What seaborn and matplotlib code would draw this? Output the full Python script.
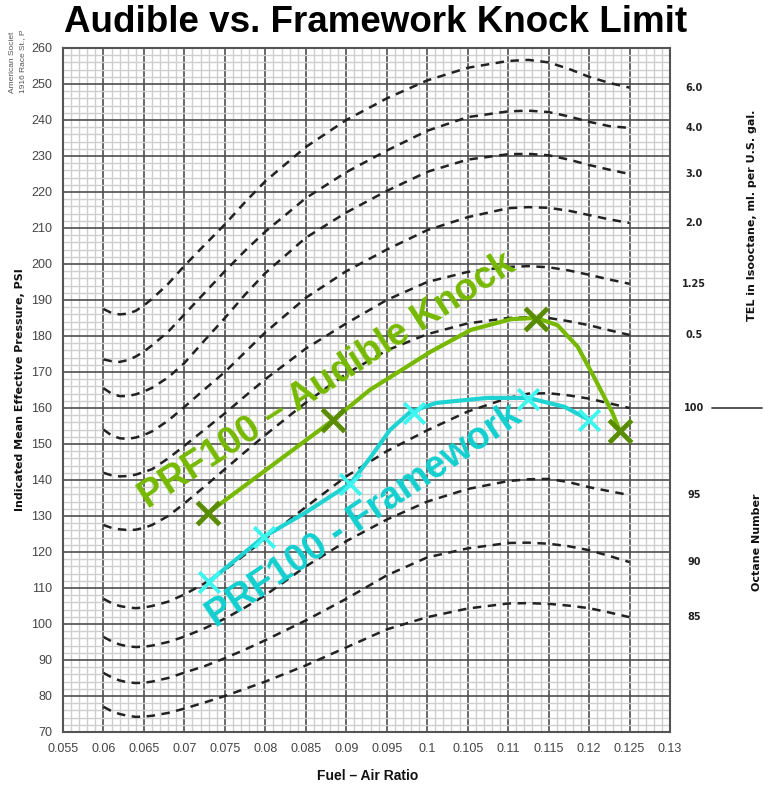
import numpy as np
import pandas as pd
import matplotlib
matplotlib.use("Agg")
import matplotlib.pyplot as plt
import seaborn as sns
from matplotlib.lines import Line2D
from matplotlib.ticker import MultipleLocator
import matplotlib.transforms as mtransforms

# ---------------- data ----------------
curve_x = [0.060, 0.061, 0.062, 0.063, 0.064, 0.065, 0.066, 0.068, 0.070, 0.0725,
           0.075, 0.0775, 0.080, 0.085, 0.090, 0.095, 0.100, 0.105, 0.110, 0.1125,
           0.115, 0.1175, 0.120, 0.1225, 0.125]
curve_1 = [187.5, 186.4, 186.0, 186.2, 187.0, 188.5, 190.3, 194.5, 199.5, 205.3,
           211.0, 217.2, 223.0, 232.5, 240.0, 246.0, 251.0, 254.5, 256.4, 256.7,
           256.0, 254.2, 252.0, 250.3, 249.0]
curve_2 = [173.5, 173.0, 172.8, 173.3, 174.3, 175.7, 177.4, 181.2, 186.0, 192.0,
           198.0, 203.7, 209.0, 218.3, 225.5, 231.5, 237.0, 240.8, 242.4, 242.6,
           242.2, 241.0, 239.5, 238.3, 237.8]
curve_3 = [165.5, 164.0, 163.3, 163.3, 163.8, 164.6, 165.6, 168.5, 172.5, 178.8,
           185.0, 191.5, 197.5, 207.3, 214.3, 220.3, 225.6, 229.0, 230.5, 230.6,
           230.2, 229.0, 227.5, 226.2, 225.0]
curve_4 = [154.0, 152.4, 151.6, 151.4, 151.8, 152.5, 153.5, 156.5, 160.3, 165.2,
           170.0, 175.5, 181.0, 190.6, 198.0, 204.0, 209.4, 213.0, 215.5, 215.8,
           215.6, 214.8, 213.6, 212.4, 211.4]
curve_5 = [142.0, 141.3, 141.0, 141.1, 141.5, 142.2, 143.0, 146.0, 149.5, 154.0,
           158.5, 163.3, 168.0, 176.5, 183.5, 190.0, 195.0, 197.8, 199.2, 199.4,
           199.1, 198.2, 197.0, 195.7, 194.5]
curve_6 = [127.5, 126.7, 126.3, 126.1, 126.2, 126.7, 127.5, 130.0, 133.5, 138.2,
           143.0, 147.8, 152.5, 161.5, 169.5, 176.0, 180.5, 183.5, 185.0, 185.2,
           185.0, 184.1, 183.0, 181.6, 180.3]
curve_7 = [107.0, 105.8, 105.0, 104.6, 104.4, 104.6, 105.0, 106.2, 108.2, 111.3,
           115.0, 119.3, 123.7, 132.5, 141.0, 148.0, 153.8, 159.0, 162.8, 164.0,
           164.1, 163.5, 162.6, 161.3, 160.0]
curve_8 = [96.4, 95.2, 94.3, 93.8, 93.6, 93.7, 94.0, 95.0, 96.5, 98.8,
           101.5, 104.6, 108.0, 116.0, 123.0, 129.0, 134.0, 137.5, 139.7, 140.2,
           140.3, 139.4, 138.0, 136.9, 135.8]
curve_9 = [86.4, 85.2, 84.3, 83.8, 83.6, 83.7, 84.0, 85.0, 86.5, 88.3,
           90.5, 92.9, 95.5, 101.0, 107.0, 113.5, 118.5, 121.0, 122.5, 122.6,
           122.3, 121.6, 120.5, 118.9, 117.2]
curve_10 = [77.0, 75.8, 75.0, 74.5, 74.2, 74.3, 74.5, 75.3, 76.5, 78.2,
            80.0, 82.0, 84.0, 88.5, 93.5, 98.5, 101.9, 104.3, 105.7, 105.8,
            105.6, 105.1, 104.4, 103.2, 101.9]
curves = [curve_1, curve_2, curve_3, curve_4, curve_5,
          curve_6, curve_7, curve_8, curve_9, curve_10]

tel_labels = ["6.0", "4.0", "3.0", "2.0", "1.25", "0.5"]
octane_labels = ["100", "95", "90", "85"]

audible_x = [0.0729, 0.0884, 0.0929, 0.1004, 0.1054, 0.1104, 0.1135, 0.1161,
             0.1186, 0.1208, 0.1229, 0.1238]
audible_y = [130.8, 156.7, 165.0, 175.6, 181.7, 184.7, 185.0, 183.0,
             177.0, 167.8, 158.6, 153.6]
audible_mx = [0.0729, 0.0884, 0.1135, 0.1238]
audible_my = [130.8, 156.7, 184.8, 153.6]

frame_x = [0.0730, 0.0798, 0.0850, 0.0905, 0.0929, 0.0954, 0.0979, 0.1011,
           0.1074, 0.1125, 0.1170, 0.1200]
frame_y = [111.7, 124.2, 131.0, 139.0, 146.0, 153.9, 158.9, 161.4,
           162.8, 162.8, 160.3, 156.7]
frame_mx = [0.0730, 0.0798, 0.0905, 0.0984, 0.1125, 0.1200]
frame_my = [111.7, 124.2, 139.0, 158.6, 162.5, 156.7]

x_ticks = [0.055, 0.06, 0.065, 0.07, 0.075, 0.08, 0.085, 0.09, 0.095, 0.1,
           0.105, 0.11, 0.115, 0.12, 0.125, 0.13]
x_tick_labels = ["0.055", "0.06", "0.065", "0.07", "0.075", "0.08", "0.085", "0.09",
                 "0.095", "0.1", "0.105", "0.11", "0.115", "0.12", "0.125", "0.13"]
y_ticks = list(range(70, 261, 10))

# ---------------- figure ----------------
sns.set_theme(style="white")
plt.rcParams["font.family"] = ["Liberation Sans", "DejaVu Sans"]

fig = plt.figure(figsize=(7.64, 7.87), dpi=100)
ax = fig.add_axes([63 / 764, 1 - 732 / 787, 607 / 764, 684 / 787])

ax.set_xlim(0.055, 0.13)
ax.set_ylim(70, 260)
ax.xaxis.set_minor_locator(MultipleLocator(0.001))
ax.yaxis.set_minor_locator(MultipleLocator(2))
ax.set_xticks(x_ticks)
ax.set_xticklabels(x_tick_labels)
ax.set_yticks(y_ticks)
ax.grid(which="minor", color="#cfcfcf", linewidth=1.0, zorder=0)
ax.grid(which="major", color="#4f4f4f", linewidth=1.2, zorder=0.5)
ax.set_axisbelow(True)
for s in ax.spines.values():
    s.set_color("#555555")
    s.set_linewidth(1.5)
ax.tick_params(which="both", length=0)
ax.tick_params(axis="both", labelsize=9, labelcolor="#444444", pad=8)
for lab in ax.get_xticklabels() + ax.get_yticklabels():
    lab.set_family(["Liberation Sans Narrow", "Liberation Sans", "DejaVu Sans"])

# dashed knock-limit curves
for cy in curves:
    sns.lineplot(x=curve_x, y=cy, ax=ax, color="#222222", linewidth=1.8,
                 linestyle=(0, (3.4, 2.6)), zorder=3)

# measured lines
sns.lineplot(x=audible_x, y=audible_y, ax=ax, color="#76b900", linewidth=3.0,
             zorder=5, sort=False)
sns.scatterplot(x=audible_mx, y=audible_my, ax=ax, marker="x", s=260,
                color="#5a8c00", linewidth=3.5, zorder=6)
sns.lineplot(x=frame_x, y=frame_y, ax=ax, color="#1fd3d3", linewidth=3.0,
             zorder=5, sort=False)
sns.scatterplot(x=frame_mx, y=frame_my, ax=ax, marker="x", s=220,
                color="#3ff5f0", linewidth=2.8, zorder=6)

ax.text(0.0876, 167.5, "PRF100 \u2013 Audible Knock", color="#76b900",
        fontsize=27, fontweight="bold", rotation=33, rotation_mode="anchor",
        ha="center", va="center", zorder=7)
ax.text(0.0922, 130.0, "PRF100 - Framework", color="#12cfcf",
        fontsize=27, fontweight="bold", rotation=34, rotation_mode="anchor",
        ha="center", va="center", zorder=7)

# right-hand labels
trans = mtransforms.blended_transform_factory(ax.transAxes, ax.transData)
for lab, cy in zip(tel_labels + octane_labels, curves):
    ax.text(1.04, cy[-1], lab, transform=trans, ha="center", va="center",
            fontsize=7, fontweight="bold", color="#222222",
            family=["DejaVu Sans"])
fig.add_artist(Line2D([712 / 764, 762 / 764], [1 - 408 / 787, 1 - 408 / 787],
                      color="#333333", linewidth=1.2))

fig.text(752 / 764, 1 - 215 / 787, "TEL in Isooctane, ml. per U.S. gal.",
         rotation=90, ha="center", va="center", fontsize=8, fontweight="bold",
         color="#111111", family=["DejaVu Sans"])
fig.text(757 / 764, 1 - 542 / 787, "Octane Number", rotation=90,
         ha="center", va="center", fontsize=8, fontweight="bold",
         color="#111111", family=["DejaVu Sans"])
fig.text(20 / 764, 1 - 390 / 787, "Indicated Mean Effective Pressure, PSI",
         rotation=90, ha="center", va="center", fontsize=8, fontweight="bold",
         color="#111111", family=["DejaVu Sans"])
fig.text(368 / 764, 1 - 776 / 787, "Fuel \u2013 Air Ratio", ha="center",
         va="center", fontsize=10, fontweight="bold", color="#111111",
         family=["Liberation Sans Narrow", "Liberation Sans"])
fig.text(13 / 764, 1 - 93 / 787, "American Societ", rotation=90, ha="center",
         va="bottom", fontsize=6, color="#555555",
         family=["Liberation Sans Narrow", "Liberation Sans"])
fig.text(23 / 764, 1 - 93 / 787, "1916 Race St., P", rotation=90, ha="center",
         va="bottom", fontsize=6, color="#555555",
         family=["Liberation Sans Narrow", "Liberation Sans"])

fig.text(376 / 764, 1 - 22 / 787, "Audible vs. Framework Knock Limit",
         ha="center", va="center", fontsize=26.5, fontweight="bold",
         color="#000000")

fig.savefig("out.png", dpi=100)
